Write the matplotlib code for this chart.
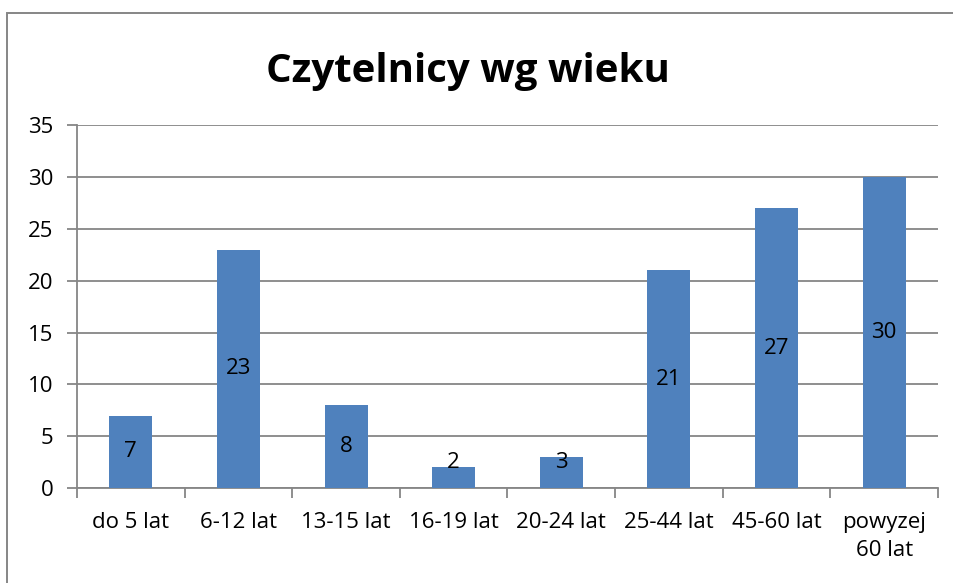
import matplotlib.pyplot as plt
from matplotlib.patches import Rectangle

kategorie = ["do 5 lat", "6-12 lat", "13-15 lat", "16-19 lat", "20-24 lat",
             "25-44 lat", "45-60 lat", "powyzej\n60 lat"]
czytelnicy = [7, 23, 8, 2, 3, 21, 27, 30]

plt.rcParams['font.family'] = ['Open Sans', 'DejaVu Sans']

fig = plt.figure(figsize=(9.54, 5.83), dpi=100)
ax = fig.add_axes([0.0807, 0.1627, 0.9025, 0.6226])

# ramka wokol calego wykresu (prawa i dolna krawedz poza obrazem)
fig.patches.append(Rectangle((7 / 954, -0.05), 1.0, 1.0 - 13 / 583 + 0.05,
                             transform=fig.transFigure, fill=False,
                             edgecolor="#868686", linewidth=1.4))

x = range(len(kategorie))
ax.bar(x, czytelnicy, width=0.4, color="#4f81bd", zorder=3)

for i, v in enumerate(czytelnicy):
    ax.text(i, max(v / 2, 2.5), str(v), ha="center", va="center",
            fontsize=16, color="black", zorder=4)

ax.set_xlim(-0.5, len(kategorie) - 0.5)
ax.set_ylim(0, 35)
ax.set_yticks(range(0, 36, 5))
ax.yaxis.grid(True, color="#868686", linewidth=1.3)
ax.set_axisbelow(True)

ax.set_xticks(list(x))
ax.set_xticklabels(kategorie, fontsize=16, linespacing=1.45)
ax.set_xticks([i + 0.5 for i in range(-1, len(kategorie))], minor=True)
ax.tick_params(axis="x", which="major", length=0, pad=17)
ax.tick_params(axis="x", which="minor", length=7, width=1.3, color="#868686")
ax.tick_params(axis="y", length=7, width=1.3, color="#868686", labelsize=16, pad=10)

for s in ["top", "right"]:
    ax.spines[s].set_visible(False)
for s in ["left", "bottom"]:
    ax.spines[s].set_color("#868686")
    ax.spines[s].set_linewidth(1.3)

fig.text(0.490, 0.877, "Czytelnicy wg wieku", ha="center", va="center",
         fontsize=29, fontweight="bold")

fig.savefig("out.png", dpi=100)
